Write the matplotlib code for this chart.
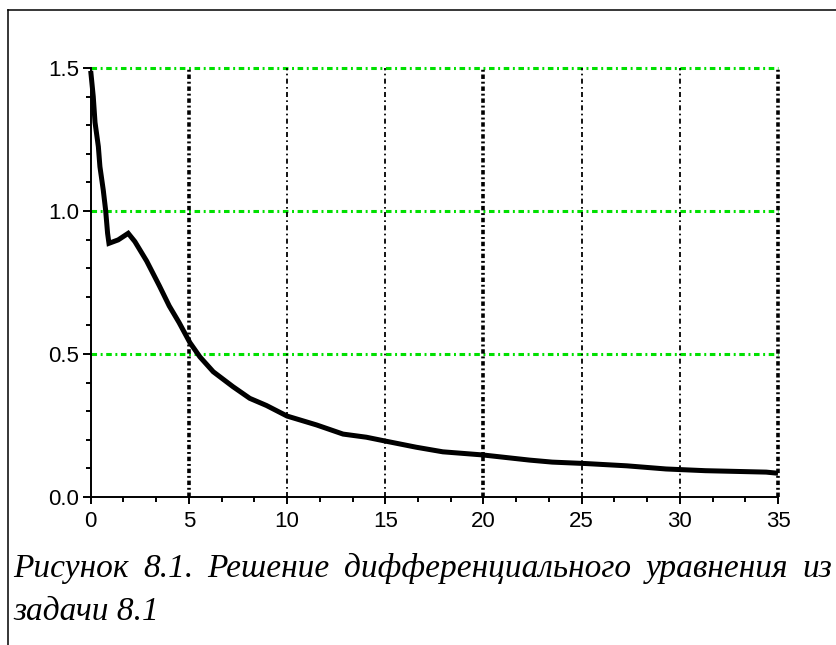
import matplotlib
matplotlib.use("Agg")
import matplotlib.pyplot as plt
from matplotlib.lines import Line2D
from matplotlib.ticker import MultipleLocator

# ---- data ----
t_vals = [0, 0.13, 0.22, 0.39, 0.47, 0.64, 0.76, 0.86, 0.93, 1.4, 1.91, 2.25,
          2.85, 3.5, 4.0, 4.5, 5.05, 5.56, 6.24, 7.24, 8.1, 8.95, 10.0,
          11.5, 12.85, 14.04, 14.97, 16.58, 17.93, 19.97, 22.35, 23.5, 25.2,
          27.3, 29.3, 31.3, 34.4, 35]
y_vals = [1.49, 1.40, 1.31, 1.225, 1.155, 1.073, 1.003, 0.922, 0.887, 0.899,
          0.922, 0.893, 0.825, 0.738, 0.668, 0.61, 0.54, 0.49, 0.438,
          0.386, 0.345, 0.32, 0.283, 0.252, 0.22, 0.209, 0.196, 0.174, 0.158,
          0.147, 0.129, 0.122, 0.117, 0.109, 0.098, 0.092, 0.087, 0.083]
x_major = [0, 5, 10, 15, 20, 25, 30, 35]
x_labels = ["0", "5", "10", "15", "20", "25", "30", "35"]
y_major = [0.0, 0.5, 1.0, 1.5]
y_labels = ["0.0", "0.5", "1.0", "1.5"]
x_grid_bold = [5, 20, 35]
x_grid_thin = [10, 15, 25, 30]
y_grid = [0.5, 1.0, 1.5]
caption_line1 = ["Рисунок", "8.1.", "Решение", "дифференциального", "уравнения", "из"]
caption_line2 = "задачи 8.1"

plt.rcParams["lines.scale_dashes"] = False

W, H = 837, 645
fig = plt.figure(figsize=(W / 100, H / 100), dpi=100)
fig.patch.set_facecolor("white")

ax_l, ax_r, ax_t, ax_b = 90.7, 778, 68, 497
ax = fig.add_axes([ax_l / W, 1 - ax_b / H, (ax_r - ax_l) / W, (ax_b - ax_t) / H])
ax.set_xlim(0, 35)
ax.set_ylim(0, 1.5)

for s in ["top", "right"]:
    ax.spines[s].set_visible(False)
for s in ["left", "bottom"]:
    ax.spines[s].set_linewidth(1.4)
    ax.spines[s].set_color("black")

# grid lines
green = "#00e000"
for yv in y_grid:
    ax.axhline(yv, color=green, lw=2.2, ls=(0, (4.0, 2.6, 1.4, 2.6)),
               clip_on=False, zorder=1)
for xv in x_grid_bold:
    ax.axvline(xv, color="black", lw=2.6, ls=(0, (3.2, 2.0, 1.4, 2.0)),
               clip_on=False, zorder=2)
for xv in x_grid_thin:
    ax.axvline(xv, color="black", lw=1.3, ls=(0, (3.6, 2.4, 1.2, 2.4)),
               clip_on=False, zorder=2)

# curve
ax.plot(t_vals, y_vals, color="black", lw=3.6, solid_joinstyle="miter",
        solid_capstyle="butt", clip_on=False, zorder=5)

# ticks
ax.set_xticks(x_major)
ax.set_xticklabels(x_labels)
ax.set_yticks(y_major)
ax.set_yticklabels(y_labels)
ax.xaxis.set_minor_locator(MultipleLocator(5 / 3))
ax.yaxis.set_minor_locator(MultipleLocator(0.1))
for lab in ax.get_xticklabels() + ax.get_yticklabels():
    lab.set_fontfamily(["Liberation Sans", "DejaVu Sans"])
    lab.set_fontsize(16)
ax.tick_params(axis="x", which="major", direction="out", length=5, width=1.4, pad=5)
ax.tick_params(axis="x", which="minor", direction="out", length=3.6, width=1.4)
ax.tick_params(axis="y", which="major", direction="out", length=5.8, width=1.4, pad=2.5)
ax.tick_params(axis="y", which="minor", direction="out", length=3.6, width=1.4)

# figure border (top and left only)
fig.add_artist(Line2D([8 / W, 1.0], [1 - 10 / H, 1 - 10 / H], color="black", lw=1.1,
                      transform=fig.transFigure))
fig.add_artist(Line2D([8 / W, 8 / W], [1 - 10 / H, 0.0], color="black", lw=1.1,
                      transform=fig.transFigure))

# caption, justified first line
cap_font = dict(family=["Liberation Serif", "DejaVu Serif"], style="italic",
                size=24, color="black")
x_left, x_right = 13, 832
base1, base2 = 577, 620
renderer = fig.canvas.get_renderer()
texts = []
widths = []
for w in caption_line1:
    tx = fig.text(0, 1 - base1 / H, w, ha="left", va="baseline", **cap_font)
    bb = tx.get_window_extent(renderer=renderer)
    texts.append(tx)
    widths.append(bb.width)
gap = (x_right - x_left - sum(widths)) / (len(caption_line1) - 1)
x = x_left
for tx, wd in zip(texts, widths):
    tx.set_x(x / W)
    x += wd + gap
fig.text(x_left / W, 1 - base2 / H, caption_line2, ha="left", va="baseline", **cap_font)

fig.savefig("out.png", dpi=100, facecolor="white")
